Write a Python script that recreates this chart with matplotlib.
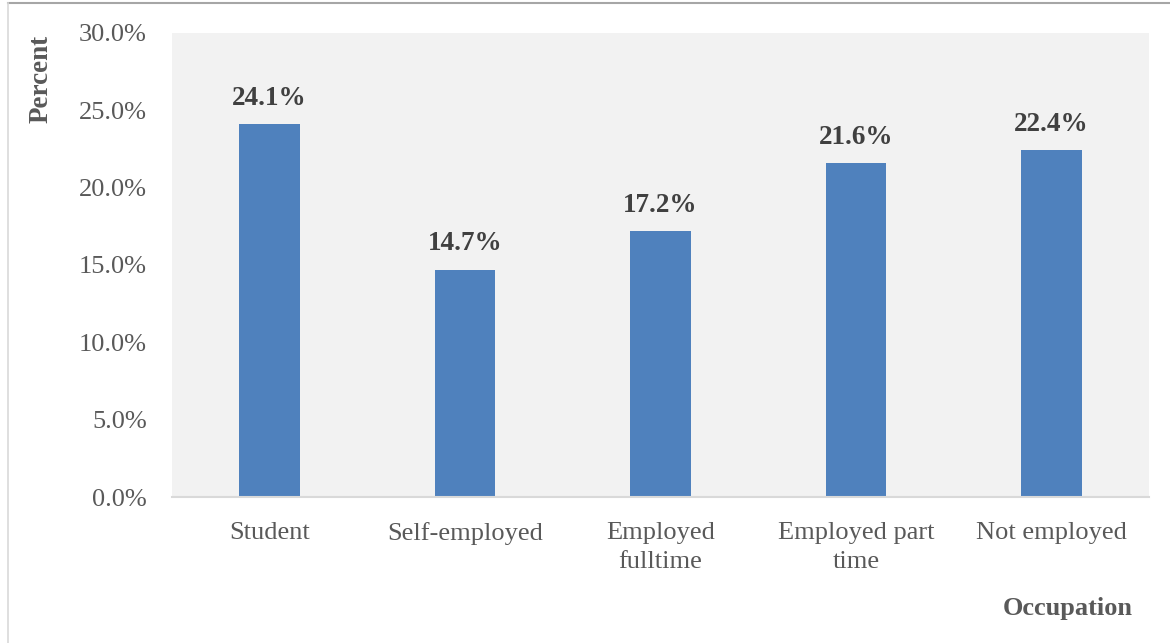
import matplotlib.pyplot as plt
from matplotlib.lines import Line2D
from matplotlib.ticker import PercentFormatter

occupations = ["Student", "Self-employed", "Employed\nfulltime", "Employed part\ntime", "Not employed"]
shares = [24.1, 14.7, 17.2, 21.6, 22.4]
y_ticks = [0, 5, 10, 15, 20, 25, 30]

plt.rcParams['font.family'] = ['Liberation Serif', 'DejaVu Serif']

fig = plt.figure(figsize=(11.7, 6.43), dpi=100)
ax = fig.add_axes([0.147, 0.227, 0.835, 0.722])
ax.set_facecolor('#F2F2F2')

x = range(len(occupations))
ax.bar(x, shares, width=0.31, color='#4F81BD', zorder=2)
for xi, v in zip(x, shares):
    ax.text(xi, v + 0.85, "{:.1f}%".format(v), ha='center', va='bottom',
            fontsize=19.5, fontweight='bold', color='#404040')

ax.set_xlim(-0.5, len(occupations) - 0.5)
ax.set_ylim(0, 30)
ax.set_yticks(y_ticks)
ax.yaxis.set_major_formatter(PercentFormatter(decimals=1))
ax.set_xticks(list(x))
ax.set_xticklabels(occupations, linespacing=1.4)
ax.tick_params(axis='both', length=0, labelsize=19, colors='#595959')
ax.tick_params(axis='y', pad=18)
ax.tick_params(axis='x', pad=18)

for side in ['top', 'right', 'left']:
    ax.spines[side].set_visible(False)
ax.spines['bottom'].set_color('#D9D9D9')
ax.spines['bottom'].set_linewidth(1.5)

fig.text(0.035, 0.878, "Percent", rotation=90, ha='center', va='center',
         fontsize=19.5, fontweight='bold', color='#595959')
fig.text(0.913, 0.054, "Occupation", ha='center', va='center',
         fontsize=19, fontweight='bold', color='#595959')

# outer chart frame
fig.add_artist(Line2D([0.007, 1.0], [0.995, 0.995], transform=fig.transFigure,
                      color='#A6A6A6', linewidth=1.5))
fig.add_artist(Line2D([0.007, 0.007], [0.0, 0.995], transform=fig.transFigure,
                      color='#D9D9D9', linewidth=1.2))

fig.savefig('out.png', dpi=100)
